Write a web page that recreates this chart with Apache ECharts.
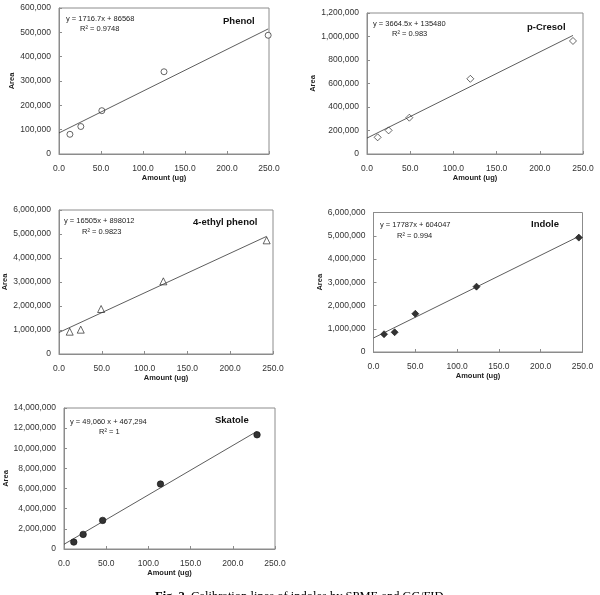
<!DOCTYPE html>
<html>
<head>
<meta charset="utf-8">
<script src="https://cdn.jsdelivr.net/npm/echarts@6/dist/echarts.min.js"></script>
<style>
  html, body { margin: 0; padding: 0; background: #fff; }
  #chart { width: 600px; height: 595px; }
</style>
</head>
<body>
<div id="chart"></div>
<script>
// amounts (ug) and peak areas
const phenolAmt = [13, 26, 51, 125, 249];
const phenolArea = [81000, 113000, 178000, 338000, 488000];
const cresolAmt = [12.3, 25, 49, 119.6, 238.4];
const cresolArea = [142000, 201000, 309000, 640000, 962000];
const ethylAmt = [12.5, 25.4, 49.2, 121.9, 242.6];
const ethylArea = [930000, 1014000, 1875000, 3028000, 4736000];
const indoleAmt = [12.6, 25.3, 50, 123.2, 245.6];
const indoleArea = [765000, 850000, 1645000, 2810000, 4920000];
const skatoleAmt = [11.6, 22.7, 45.8, 114.3, 228.7];
const skatoleArea = [690000, 1450000, 2840000, 6450000, 11340000];

// fitted lines (slope, intercept) as printed on each panel
const slopes = [1716.7, 3664.5, 16505, 17787, 49060];
const intercepts = [86568, 135480, 898012, 604047, 467294];
const eqLabels = ["y = 1716.7x + 86568", "y = 3664.5x + 135480", "y = 16505x + 898012",
  "y = 17787x + 604047", "y = 49,060 x + 467,294"];
const r2Labels = ["R\u00b2 = 0.9748", "R\u00b2 = 0.983", "R\u00b2 = 0.9823", "R\u00b2 = 0.994", "R\u00b2 = 1"];
const names = ["Phenol", "p-Cresol", "4-ethyl phenol", "Indole", "Skatole"];

const yMax = [600000, 1200000, 6000000, 6000000, 14000000];
const yStep = [100000, 200000, 1000000, 1000000, 2000000];
const xTicks = [0, 50, 100, 150, 200, 250];

const amts = [phenolAmt, cresolAmt, ethylAmt, indoleAmt, skatoleAmt];
const areas = [phenolArea, cresolArea, ethylArea, indoleArea, skatoleArea];

// layout per panel
const panels = [
  { grid: [59, 8, 210, 146], eq: [66, 19], r2: [80, 29], nm: [223, 21], sym: "circle", fill: "#fff", size: 6, yGap: 42, xGap: 20 },
  { grid: [367, 13, 216, 141], eq: [373, 24], r2: [392, 34], nm: [527, 27], sym: "diamond", fill: "#fff", size: 7, yGap: 42, xGap: 19 },
  { grid: [59, 210, 214, 144], eq: [64, 221], r2: [82, 232], nm: [193, 222], sym: "triangle", fill: "#fff", size: 7, yGap: 46, xGap: 17 },
  { grid: [373.5, 212.5, 209, 139.5], eq: [380, 225], r2: [397, 236], nm: [531, 224], sym: "diamond", fill: "#000", size: 7, yGap: 46, xGap: 20 },
  { grid: [64, 408, 211, 141], eq: [70, 422], r2: [99, 432], nm: [215, 420], sym: "circle", fill: "#000", size: 6.5, yGap: 49, xGap: 19 },
];

const font = "'Liberation Sans', Arial, sans-serif";
const fmt = (v) => v.toLocaleString("en-US");

const grid = [], xAxis = [], yAxis = [], series = [], graphic = [];

panels.forEach((p, i) => {
  grid.push({
    left: p.grid[0], top: p.grid[1], width: p.grid[2], height: p.grid[3],
    show: true, borderColor: "#8c8c8c", borderWidth: 1, backgroundColor: "#fff",
  });
  xAxis.push({
    type: "value", gridIndex: i, min: xTicks[0], max: xTicks[xTicks.length - 1], interval: 50,
    name: "Amount (ug)", nameLocation: "middle", nameGap: p.xGap,
    nameTextStyle: { fontFamily: font, fontSize: 7.5, fontWeight: "bold", color: "#222" },
    axisLine: { lineStyle: { color: "#8c8c8c" } },
    axisTick: { inside: true, length: 3, lineStyle: { color: "#8c8c8c" } },
    axisLabel: { formatter: (v) => v.toFixed(1), fontFamily: font, fontSize: 8.5, color: "#333", margin: 10 },
    splitLine: { show: false },
  });
  yAxis.push({
    type: "value", gridIndex: i, min: 0, max: yMax[i], interval: yStep[i],
    name: "Area", nameLocation: "middle", nameGap: p.yGap, nameRotate: 90,
    nameTextStyle: { fontFamily: font, fontSize: 7.5, fontWeight: "bold", color: "#222" },
    axisLine: { show: true, lineStyle: { color: "#8c8c8c" } },
    axisTick: { show: true, inside: true, length: 3, lineStyle: { color: "#8c8c8c" } },
    axisLabel: { formatter: fmt, fontFamily: font, fontSize: 8.5, color: "#333", margin: 8 },
    splitLine: { show: false },
  });
  const xs = amts[i];
  const xEnd = Math.max(...xs);
  series.push({
    type: "line", xAxisIndex: i, yAxisIndex: i, symbol: "none", silent: true,
    lineStyle: { color: "#333", width: 0.8 },
    data: [[0, intercepts[i]], [xEnd, slopes[i] * xEnd + intercepts[i]]],
  });
  series.push({
    type: "scatter", xAxisIndex: i, yAxisIndex: i, symbol: p.sym, symbolSize: p.size,
    itemStyle: { color: p.fill, borderColor: "#111", borderWidth: 0.8 },
    data: xs.map((x, k) => [x, areas[i][k]]),
  });
  graphic.push(
    { type: "text", x: p.eq[0], y: p.eq[1], style: { text: eqLabels[i], font: `7.5px ${font}`, fill: "#222", verticalAlign: "middle" } },
    { type: "text", x: p.r2[0], y: p.r2[1], style: { text: r2Labels[i], font: `7.5px ${font}`, fill: "#222", verticalAlign: "middle" } },
    { type: "text", x: p.nm[0], y: p.nm[1], style: { text: names[i], font: `bold 9.5px ${font}`, fill: "#111", verticalAlign: "middle" } }
  );
});

// figure caption, cut off by the bottom edge as in the scan
graphic.push({
  type: "text", x: 155, y: 590,
  style: {
    text: "{b|Fig. 2.} Calibration lines of indoles by SPME and GC/FID.",
    rich: { b: { font: "bold 12.5px 'Liberation Serif', serif", fill: "#000" } },
    font: "12.5px 'Liberation Serif', serif", fill: "#000",
  },
});

const chart = echarts.init(document.getElementById("chart"), null, { renderer: "canvas" });
chart.setOption({
  animation: false,
  backgroundColor: "#fff",
  grid, xAxis, yAxis, series, graphic,
});
</script>
</body>
</html>
